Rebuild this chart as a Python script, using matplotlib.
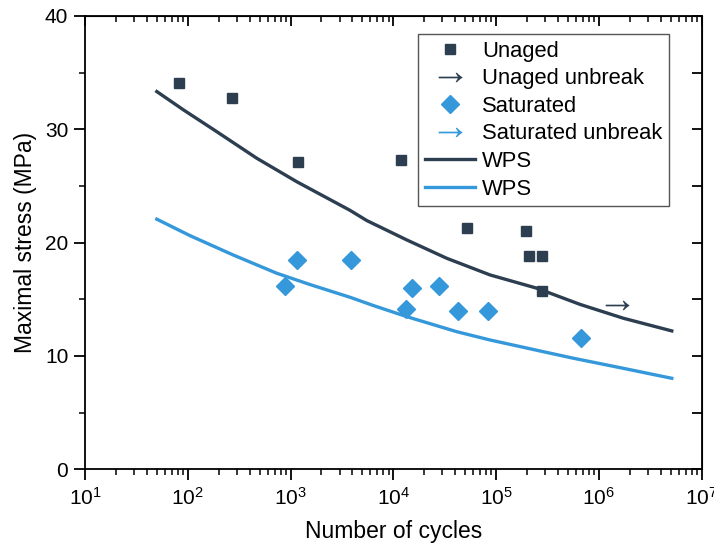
import numpy as np
import matplotlib.pyplot as plt
from matplotlib.ticker import LogLocator, MultipleLocator, NullFormatter

plt.rcParams['font.family'] = ['Liberation Sans', 'DejaVu Sans']
plt.rcParams['mathtext.fontset'] = 'custom'
plt.rcParams['mathtext.rm'] = 'Liberation Sans'

# data
unaged_n = [82, 267, 1190, 11970, 52700, 194000, 209000, 277000, 277000]
unaged_s = [34.1, 32.8, 27.1, 27.3, 21.3, 21.0, 18.8, 18.8, 15.7]

unaged_unbreak_n = [1.52e6]
unaged_unbreak_s = [14.5]

sat_n = [892, 1148, 3908, 13280, 15220, 27700, 42750, 83600, 665000]
sat_s = [16.2, 18.5, 18.5, 14.1, 16.0, 16.2, 14.0, 14.0, 11.6]

sat_unbreak_n = []
sat_unbreak_s = []

wps_unaged_n = [50, 91, 191, 469, 1148, 3793, 5520, 13520, 33100, 87400,
                249000, 657000, 1.73e6, 5.13e6]
wps_unaged_s = [33.33, 31.71, 29.80, 27.45, 25.38, 22.85, 21.95, 20.24, 18.62, 17.15,
                15.98, 14.55, 13.33, 12.21]

wps_sat_n = [50, 105, 277, 734, 1549, 3793, 6400, 13520, 41500, 87400,
             268000, 565000, 1.73e6, 5.13e6]
wps_sat_s = [22.07, 20.62, 18.91, 17.30, 16.30, 15.18, 14.45, 13.47, 12.14, 11.41,
             10.44, 9.80, 8.91, 8.03]

dark = '#2c3e50'
blue = '#3498db'

fig = plt.figure(figsize=(7.14, 5.49), dpi=100)
ax = fig.add_axes([0.119, 0.1452, 0.8636, 0.8257])

arrow = r'$\rightarrow$'
ax.plot(unaged_n, unaged_s, 's', color=dark, ms=7.5, label='Unaged', zorder=4)
ax.plot(unaged_unbreak_n, unaged_unbreak_s, ls='none', marker=arrow, color=dark,
        ms=17, mew=0, label='Unaged unbreak', zorder=4)
ax.plot(sat_n, sat_s, 'D', color=blue, ms=9.5, label='Saturated', zorder=4)
ax.plot(sat_unbreak_n, sat_unbreak_s, ls='none', marker=arrow, color=blue,
        ms=17, mew=0, label='Saturated unbreak', zorder=4)
ax.plot(wps_unaged_n, wps_unaged_s, '-', color=dark, lw=2.4, label='WPS', zorder=3)
ax.plot(wps_sat_n, wps_sat_s, '-', color=blue, lw=2.4, label='WPS', zorder=3)

ax.set_xscale('log')
ax.set_xlim(10, 1e7)
ax.set_ylim(0, 40)
ax.yaxis.set_major_locator(MultipleLocator(10))
ax.yaxis.set_minor_locator(MultipleLocator(5))
ax.xaxis.set_major_locator(LogLocator(base=10, numticks=10))
ax.xaxis.set_minor_locator(LogLocator(base=10, subs=np.arange(2, 10), numticks=10))
ax.xaxis.set_minor_formatter(NullFormatter())

for s in ax.spines.values():
    s.set_linewidth(1.3)
ax.tick_params(axis='both', which='major', labelsize=15, width=1.3, direction='out')
ax.tick_params(axis='x', which='major', length=8, pad=5)
ax.tick_params(axis='x', which='minor', length=4.5, width=1.1, direction='out')
ax.tick_params(axis='y', which='major', length=8, pad=4)
ax.tick_params(axis='y', which='minor', length=4.5, width=1.1, direction='out')

# mirrored ticks on top and right, pointing in
axt = ax.secondary_xaxis('top')
axt.set_xscale('log')
axt.xaxis.set_major_locator(LogLocator(base=10, numticks=10))
axt.xaxis.set_minor_locator(LogLocator(base=10, subs=np.arange(2, 10), numticks=10))
axt.tick_params(which='major', direction='in', length=7, width=1.3, labeltop=False)
axt.tick_params(which='minor', direction='in', length=4, width=1.1)
axt.xaxis.set_major_formatter(NullFormatter())
axt.xaxis.set_minor_formatter(NullFormatter())
axr = ax.secondary_yaxis('right')
axr.yaxis.set_major_locator(MultipleLocator(10))
axr.yaxis.set_minor_locator(MultipleLocator(5))
axr.tick_params(which='both', direction='in', length=7, width=1.3, labelright=False)
axr.yaxis.set_major_formatter(NullFormatter())

ax.set_xlabel('Number of cycles', fontsize=16.5, labelpad=8)
ax.set_ylabel('Maximal stress (MPa)', fontsize=16.5, labelpad=6)

leg = ax.legend(loc='upper right', bbox_to_anchor=(0.947, 0.96), fontsize=15.8,
                frameon=True, fancybox=False, edgecolor='#555555', framealpha=1,
                handlelength=2.3, handletextpad=0.3, labelspacing=0.3,
                borderpad=0.3, borderaxespad=0)
leg.get_frame().set_linewidth(1.0)

fig.savefig('out.png', dpi=100)
